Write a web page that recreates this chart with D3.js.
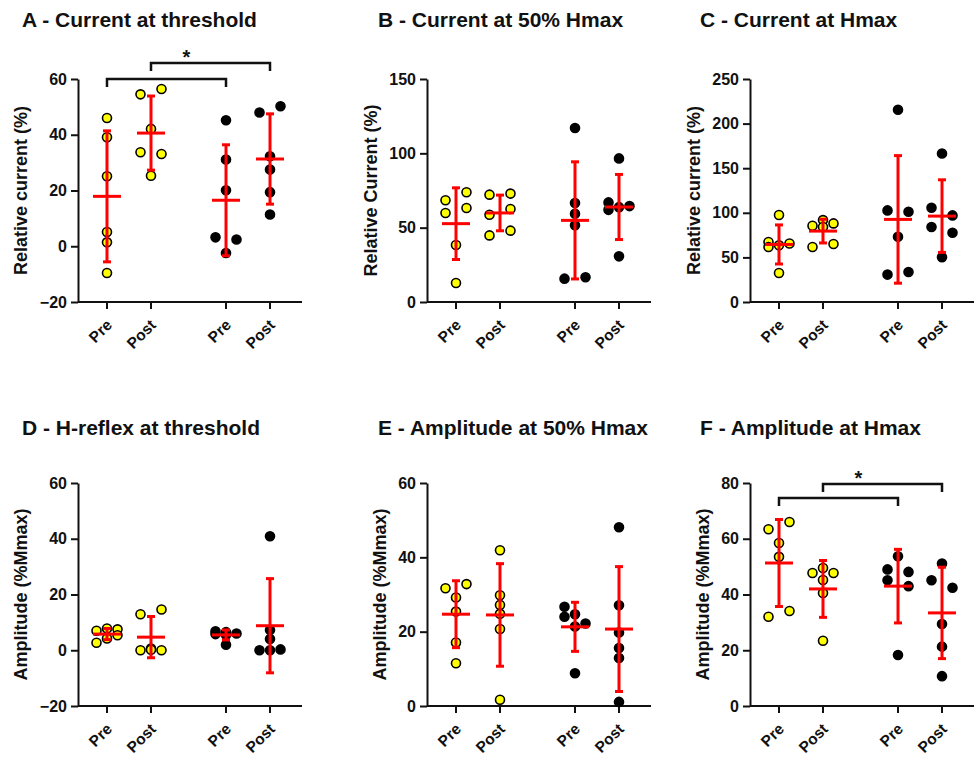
<!DOCTYPE html>
<html>
<head>
<meta charset="utf-8">
<script src="https://cdn.jsdelivr.net/npm/d3@7"></script>
<style>
	body { margin: 0; background: #fff; }
	text { font-family: "Liberation Sans", Arial, sans-serif; font-weight: bold; fill: #111; }
</style>
</head>
<body>
<svg id="chart" width="977" height="757"></svg>
<script>
// categories
const conditions = ['Pre', 'Post', 'Pre', 'Post'];
const cohorts = ['Group 1', 'Group 1', 'Group 2', 'Group 2'];
const cohortFill = { 'Group 1': '#ffff00', 'Group 2': '#000000' };

const titles = [
	'A - Current at threshold', 'B - Current at 50% Hmax', 'C - Current at Hmax',
	'D - H-reflex at threshold', 'E - Amplitude at 50% Hmax', 'F - Amplitude at Hmax',
];
const yLabels = [
	'Relative current (%)', 'Relative Current (%)', 'Relative current (%)',
	'Amplitude (%Mmax)', 'Amplitude (%Mmax)', 'Amplitude (%Mmax)',
];
const yTicks = [
	[-20, 0, 20, 40, 60], [0, 50, 100, 150], [0, 50, 100, 150, 200, 250],
	[-20, 0, 20, 40, 60], [0, 20, 40, 60], [0, 20, 40, 60, 80],
];

// individual values, one array per column (Pre, Post, Pre, Post)
const valuesA = [
	[46.0, 39.1, 25.1, 5.1, 1.4, -9.6],
	[54.5, 56.4, 42.1, 33.7, 33.1, 25.3],
	[45.2, 31.1, 20.1, 3.2, 2.4, -2.4],
	[48.0, 50.2, 32.3, 27.5, 19.4, 11.4],
];
const meansA = [17.9, 40.6, 16.5, 31.3];
const sdsA = [23.5, 13.3, 19.9, 16.2];

const valuesB = [
	[68.4, 73.8, 59.9, 63.2, 38.3, 12.8],
	[72.2, 72.9, 58.7, 62.6, 44.8, 48.0],
	[117.0, 66.6, 59.4, 51.6, 15.7, 16.6],
	[96.6, 67.0, 64.5, 63.8, 62.0, 30.7],
];
const meansB = [52.7, 59.9, 54.9, 63.9];
const sdsB = [24.1, 12.0, 39.4, 21.9];

const valuesC = [
	[97.5, 67.3, 65.5, 63.5, 61.7, 32.5],
	[85.5, 88.1, 91.8, 84.0, 61.7, 65.0],
	[215.5, 102.7, 101.2, 73.1, 30.7, 33.7],
	[166.4, 105.7, 97.1, 84.0, 77.6, 50.2],
];
const meansC = [64.5, 79.5, 92.6, 96.3];
const sdsC = [21.9, 13.3, 71.5, 40.7];

const valuesD = [
	[7.0, 7.5, 7.8, 2.7, 4.2, 5.4],
	[12.9, 14.6, 0, 0, 0.6, 0.2],
	[6.5, 6.8, 6.0, 5.8, 5.5, 2.0],
	[40.9, 7.3, 4.0, 0, 0, 0.3],
];
const meansD = [5.8, 4.7, 5.5, 8.8];
const sdsD = [2.0, 7.4, 1.8, 16.9];

const valuesE = [
	[31.7, 32.8, 29.2, 25.4, 17.1, 11.5],
	[41.9, 29.8, 27.2, 24.8, 20.7, 1.7],
	[24.7, 26.7, 24.0, 22.2, 21.4, 8.8],
	[48.1, 27.1, 19.8, 15.6, 12.9, 1.1],
];
const meansE = [24.7, 24.5, 21.3, 20.7];
const sdsE = [9.0, 13.8, 6.6, 16.8];

const valuesF = [
	[63.4, 66.0, 58.5, 53.5, 32.0, 34.1],
	[47.7, 47.7, 49.5, 45.2, 40.5, 23.4],
	[53.7, 49.0, 48.1, 45.1, 43.0, 18.3],
	[51.1, 45.1, 42.4, 29.4, 21.3, 10.7],
];
const meansF = [51.3, 42.0, 43.0, 33.4];
const sdsF = [15.6, 10.2, 13.2, 16.4];

// significance brackets (column index from -> to, height in data units)
const sigA = [{ from: 0, to: 2, at: 60 }, { from: 1, to: 3, at: 65.7 }];
const sigF = [{ from: 0, to: 2, at: 74.6 }, { from: 1, to: 3, at: 79.6 }];

const panels = [
	{ values: valuesA, means: meansA, sds: sdsA, sig: sigA },
	{ values: valuesB, means: meansB, sds: sdsB, sig: null },
	{ values: valuesC, means: meansC, sds: sdsC, sig: null },
	{ values: valuesD, means: meansD, sds: sdsD, sig: null },
	{ values: valuesE, means: meansE, sds: sdsE, sig: null },
	{ values: valuesF, means: meansF, sds: sdsF, sig: sigF },
];

// layout
const colLeft = [78, 427, 750],
	rowTop = [79, 483],
	titleX = [22, 378, 700],
	titleY = [27, 435],
	plotW = 224, plotH = 223;
const RED = '#ff0000', R = 4.5, STEP = 10.5;

const svg = d3.select('#chart');

// spread overlapping dots sideways (scatter dot plot style)
function layoutDots(vals, y) {
	let pts = vals.map((v, i) => ({ v, i, py: y(v), dx: 0 }));
	let sorted = pts.slice().sort((a, b) => a.py - b.py);
	let clusters = [];
	sorted.forEach(p => {
		let last = clusters[clusters.length - 1];
		if (last && p.py - last[last.length - 1].py < 8.5) last.push(p);
		else clusters.push([p]);
	});
	clusters.forEach(c => {
		if (c.length === 1) return;
		c.sort((a, b) => a.i - b.i);
		let pref = c.length % 2 ? [0, -1, 1] : [-1, 1, 0];
		let placed = [];
		c.forEach(p => {
			let dist = s => placed.length ? d3.min(placed, q => Math.hypot((s - q.s) * STEP, p.py - q.py)) : Infinity;
			let s = pref.find(s => dist(s) >= 10);
			if (s === undefined) s = d3.greatest(pref, dist);
			p.s = s;
			p.dx = s * STEP;
			placed.push(p);
		});
	});
	return pts;
}

panels.forEach((panel, k) => {
	let col = k % 3, row = Math.floor(k / 3);
	let g = svg.append('g')
		.attr('transform', `translate(${colLeft[col]},${rowTop[row]})`);

	let ticks = yTicks[k];
	let y = d3.scaleLinear().domain(d3.extent(ticks)).range([plotH, 0]);
	let outer = d3.scaleBand().domain(['Group 1', 'Group 2']).range([0, plotW - 3])
		.paddingInner(0.5).paddingOuter(0.1785);
	let inner = d3.scalePoint().domain(['Pre', 'Post']).range([-22, 22]);
	let xOf = i => outer(cohorts[i]) + outer.bandwidth() / 2 + inner(conditions[i]);

	// title
	svg.append('text')
		.attr('x', titleX[col]).attr('y', titleY[row])
		.attr('font-size', 21)
		.text(titles[k]);

	// y axis
	let yAxis = g.append('g')
		.call(d3.axisLeft(y).tickValues(ticks).tickSize(7).tickSizeOuter(0).tickPadding(4));
	yAxis.attr('font-family', null).attr('font-size', null);
	yAxis.select('.domain').attr('stroke', '#111').attr('stroke-width', 2);
	yAxis.selectAll('.tick line').attr('stroke', '#111').attr('stroke-width', 2);
	yAxis.selectAll('.tick text')
		.attr('font-size', 16).style('fill', '#111');

	let maxW = d3.max(yAxis.selectAll('.tick text').nodes(), n => n.getComputedTextLength());
	let labelX = -(11 + maxW + 19);
	g.append('text')
		.attr('transform', `translate(${labelX},${plotH / 2}) rotate(-90)`)
		.attr('text-anchor', 'middle')
		.attr('dy', '0.35em')
		.attr('font-size', 18)
		.text(yLabels[k]);

	// x axis
	g.append('line')
		.attr('x1', 0).attr('x2', plotW)
		.attr('y1', plotH).attr('y2', plotH)
		.attr('stroke', '#111').attr('stroke-width', 2);
	let xt = g.selectAll('.xtick').data(conditions).join('g')
		.attr('class', 'xtick')
		.attr('transform', (d, i) => `translate(${xOf(i)},${plotH})`);
	xt.append('line').attr('y2', 7).attr('stroke', '#111').attr('stroke-width', 2);
	xt.append('text')
		.attr('transform', 'translate(6,24) rotate(-45)')
		.attr('text-anchor', 'end')
		.attr('font-size', 15.5)
		.text(d => d);

	// dots
	panel.values.forEach((vals, i) => {
		let pts = layoutDots(vals, y);
		g.append('g').selectAll('circle').data(pts).join('circle')
			.attr('cx', d => xOf(i) + d.dx)
			.attr('cy', d => d.py)
			.attr('r', R)
			.attr('fill', cohortFill[cohorts[i]])
			.attr('stroke', '#000')
			.attr('stroke-width', 1.6);
	});

	// mean ± SD
	let eb = g.append('g').selectAll('g').data(panel.means).join('g')
		.attr('transform', (d, i) => `translate(${xOf(i)},0)`)
		.attr('stroke', RED).attr('stroke-width', 3);
	eb.append('line')
		.attr('y1', (d, i) => y(d + panel.sds[i]))
		.attr('y2', (d, i) => y(d - panel.sds[i]));
	eb.append('line').attr('x1', -4).attr('x2', 4)
		.attr('y1', (d, i) => y(d + panel.sds[i])).attr('y2', (d, i) => y(d + panel.sds[i]));
	eb.append('line').attr('x1', -4).attr('x2', 4)
		.attr('y1', (d, i) => y(d - panel.sds[i])).attr('y2', (d, i) => y(d - panel.sds[i]));
	eb.append('line').attr('x1', -14).attr('x2', 14)
		.attr('y1', d => y(d)).attr('y2', d => y(d));

	// significance
	if (panel.sig) {
		panel.sig.forEach(s => {
			let x1 = xOf(s.from), x2 = xOf(s.to), yy = y(s.at);
			g.append('path')
				.attr('d', `M${x1},${yy + 8}V${yy}H${x2}V${yy + 8}`)
				.attr('fill', 'none').attr('stroke', '#111').attr('stroke-width', 2.5);
		});
		let top = panel.sig[panel.sig.length - 1];
		let xs = panel.sig.flatMap(s => [xOf(s.from), xOf(s.to)]);
		g.append('text')
			.attr('x', (d3.min(xs) + d3.max(xs)) / 2 - 2)
			.attr('y', y(top.at) + 1)
			.attr('text-anchor', 'middle')
			.attr('font-size', 20)
			.text('*');
	}
});
</script>
</body>
</html>
